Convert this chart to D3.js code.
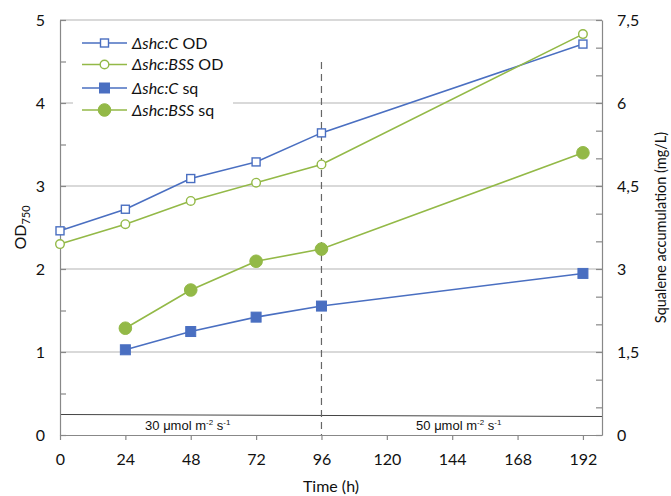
<!DOCTYPE html>
<html>
<head>
<meta charset="utf-8">
<script src="https://cdn.jsdelivr.net/npm/d3@7"></script>
<style>
  body { margin: 0; background: #fff; }
  svg text { font-family: Lato, "Open Sans", sans-serif; fill: #111; }
</style>
</head>
<body>
<svg id="chart" width="671" height="496"></svg>
<script>
// data
const odTime = [0, 24, 48, 72, 96, 192];
const shcC_OD = [2.46, 2.72, 3.09, 3.29, 3.64, 4.71];
const shcBSS_OD = [2.30, 2.54, 2.82, 3.04, 3.26, 4.83];
const sqTime = [24, 48, 72, 96, 192];
const shcC_sq = [1.54, 1.87, 2.13, 2.33, 2.92];
const shcBSS_sq = [1.93, 2.62, 3.14, 3.36, 5.10];
const xTicks = [0, 24, 48, 72, 96, 120, 144, 168, 192];
const leftTicks = [0, 1, 2, 3, 4, 5];
const rightTicks = [0, 1.5, 3, 4.5, 6, 7.5];
const lightLevels = ["30", "50"];

const blue = "#4a6fc1", green = "#93b947";
const svg = d3.select("#chart");

const plotLeft = 60, plotRight = 602, plotTop = 20, plotBottom = 435;
const x = d3.scaleLinear([0, 199], [plotLeft, plotRight]);
const yL = d3.scaleLinear([0, 5], [plotBottom, plotTop]);
const yR = d3.scaleLinear([0, 7.5], [plotBottom, plotTop]);

// gridlines
svg.append("g").selectAll("line")
    .data(leftTicks.filter(d => d > 0))
    .enter().append("line")
    .attr("x1", plotLeft).attr("x2", plotRight)
    .attr("y1", d => yL(d)).attr("y2", d => yL(d))
    .attr("stroke", "#b3b3b3").attr("stroke-width", 1.2);

// light-intensity divider line
svg.append("line")
    .attr("x1", plotLeft).attr("x2", plotRight)
    .attr("y1", yL(0.247)).attr("y2", yL(0.223))
    .attr("stroke", "#444").attr("stroke-width", 1);

// dashed line at 96 h
svg.append("line")
    .attr("x1", x(96)).attr("x2", x(96))
    .attr("y1", 62).attr("y2", plotBottom)
    .attr("stroke", "#666").attr("stroke-width", 1.2)
    .attr("stroke-dasharray", "7,5");

// left axis
const axL = svg.append("g").attr("transform", `translate(${plotLeft},0)`)
    .call(d3.axisLeft(yL).tickValues(leftTicks).tickSizeInner(-6).tickSizeOuter(0).tickPadding(15)
        .tickFormat(d3.format("d")));
svg.append("g").attr("transform", `translate(${plotLeft},0)`)
    .call(d3.axisLeft(yL).tickValues([0.5, 1.5, 2.5, 3.5, 4.5]).tickSizeInner(-6).tickSizeOuter(0).tickFormat(""))
    .select(".domain").remove();

// right axis
const axR = svg.append("g").attr("transform", `translate(${plotRight},0)`)
    .call(d3.axisRight(yR).tickValues(rightTicks).tickSizeInner(-6).tickSizeOuter(0).tickPadding(15)
        .tickFormat(d => String(d).replace(".", ",")));
svg.append("g").attr("transform", `translate(${plotRight},0)`)
    .call(d3.axisRight(yR).tickValues(d3.range(0.5, 7.5, 0.5).filter(d => !rightTicks.includes(d)))
        .tickSizeInner(-6).tickSizeOuter(0).tickFormat(""))
    .select(".domain").remove();

// bottom axis
const axB = svg.append("g").attr("transform", `translate(0,${plotBottom})`)
    .call(d3.axisBottom(x).tickValues(xTicks).tickSizeInner(5).tickSizeOuter(0).tickPadding(14));

[axL, axR, axB].forEach(a => {
    a.selectAll("text").style("font-size", "16px").style("font-family", "Lato, sans-serif").attr("fill", "#111");
});
svg.selectAll(".domain, .tick line").attr("stroke", "#888").attr("stroke-width", 1.2);

// light labels
lightLevels.forEach((lv, i) => {
    const cx = i == 0 ? (x(0) + x(96)) / 2 : (x(96) + plotRight) / 2;
    const t = svg.append("text")
        .attr("x", cx - 3).attr("y", 430)
        .attr("text-anchor", "middle")
        .style("font-family", "'Liberation Sans Narrow', 'Liberation Sans', sans-serif")
        .style("font-size", "13px");
    t.append("tspan").text(lv + " \u03bcmol m");
    t.append("tspan").attr("dy", -5).style("font-size", "8px").text("-2");
    t.append("tspan").attr("dy", 5).text(" s");
    t.append("tspan").attr("dy", -5).style("font-size", "8px").text("-1");
});

// series
const series = [
    { t: odTime, v: shcC_OD, y: yL, color: blue, marker: "square", filled: false },
    { t: odTime, v: shcBSS_OD, y: yL, color: green, marker: "circle", filled: false },
    { t: sqTime, v: shcC_sq, y: yR, color: blue, marker: "square", filled: true },
    { t: sqTime, v: shcBSS_sq, y: yR, color: green, marker: "circle", filled: true }
];

function drawMarker(g, s, cx, cy) {
    if (s.marker == "square") {
        const size = s.filled ? 10 : 8;
        g.append("rect")
            .attr("x", cx - size / 2).attr("y", cy - size / 2)
            .attr("width", size).attr("height", size)
            .attr("fill", s.filled ? s.color : "#fff")
            .attr("stroke", s.color).attr("stroke-width", s.filled ? 1 : 1.4);
    } else {
        g.append("circle")
            .attr("cx", cx).attr("cy", cy)
            .attr("r", s.filled ? 6.3 : 4.3)
            .attr("fill", s.filled ? s.color : "#fff")
            .attr("stroke", s.color).attr("stroke-width", s.filled ? 1 : 1.4);
    }
}

series.forEach(s => {
    const pts = s.t.map((t, i) => [x(t), s.y(s.v[i])]);
    svg.append("path")
        .attr("d", d3.line()(pts))
        .attr("fill", "none").attr("stroke", s.color).attr("stroke-width", 1.6);
    const g = svg.append("g");
    pts.forEach(p => drawMarker(g, s, p[0], p[1]));
});

// legend
const legendNames = [["\u0394shc:C", " OD"], ["\u0394shc:BSS", " OD"], ["\u0394shc:C", " sq"], ["\u0394shc:BSS", " sq"]];
svg.append("rect").attr("x", 73).attr("y", 30).attr("width", 160).attr("height", 90).attr("fill", "#fff");
const legendY = [43, 64.5, 88, 110];
series.forEach((s, i) => {
    const g = svg.append("g");
    g.append("line").attr("x1", 82).attr("x2", 127)
        .attr("y1", legendY[i]).attr("y2", legendY[i])
        .attr("stroke", s.color).attr("stroke-width", 1.6);
    drawMarker(g, s, 104.5, legendY[i]);
    const t = g.append("text").attr("x", 132).attr("y", legendY[i] + 5.5).style("font-size", "16px");
    t.append("tspan").style("font-style", "italic").text(legendNames[i][0]);
    t.append("tspan").text(legendNames[i][1]);
});

// axis titles
svg.append("text").attr("x", (plotLeft + plotRight) / 2).attr("y", 492)
    .attr("text-anchor", "middle").style("font-size", "16px").text("Time (h)");

const odLabel = svg.append("text")
    .attr("transform", `translate(26,${(plotTop + plotBottom) / 2}) rotate(-90)`)
    .attr("text-anchor", "middle").style("font-size", "16px");
odLabel.append("tspan").text("OD");
odLabel.append("tspan").attr("dy", 4).style("font-size", "11px").text("750");

svg.append("text")
    .attr("transform", `translate(666,${(plotTop + plotBottom) / 2}) rotate(-90)`)
    .attr("text-anchor", "middle").style("font-size", "14.5px")
    .text("Squalene accumulation (mg/L)");
</script>
</body>
</html>
